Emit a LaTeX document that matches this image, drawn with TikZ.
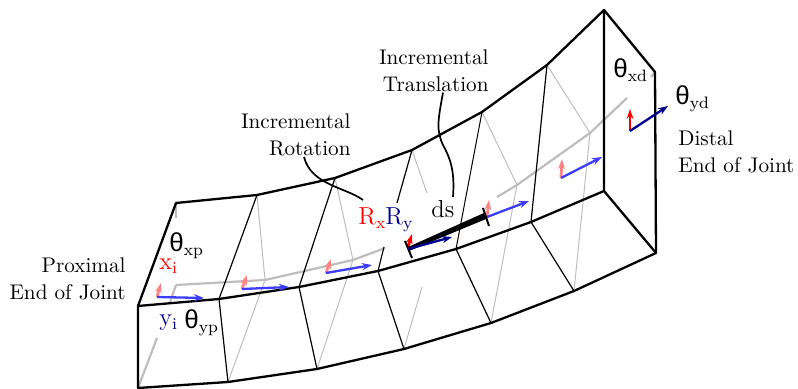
\documentclass[tikz,border=0pt]{standalone}
\usepackage{fontspec}
\usepackage{xcolor}
\usetikzlibrary{arrows.meta}
\newfontfamily\thetafont{Liberation Sans}
\definecolor{lightblue}{HTML}{3C3CFF}
\definecolor{lightred}{HTML}{FF8585}
\definecolor{darkblue}{HTML}{00008F}
\definecolor{backgray}{HTML}{BDBDBD}
\newcommand{\thetalab}[1]{{\fontsize{13}{14}\thetafont θ}\raisebox{-0.35ex}{\fontsize{8.3}{9}\selectfont #1}}
\tikzset{
  edge/.style={black,line width=1.15pt,line join=round},
  rib/.style={black,line width=0.6pt},
  backrib/.style={backgray,line width=0.5pt},
  backedge/.style={backgray,line width=1.1pt},
  leader/.style={black,line width=0.85pt},
  lab/.style={inner sep=0pt,anchor=base west},
  big/.style={font=\fontsize{12.3}{14}\selectfont},
  para/.style={inner sep=0pt,font=\fontsize{10.6}{13.5}\selectfont},
  axis/.style={-{Stealth[length=5pt,width=3.6pt]},line width=1.15pt},
  upaxis/.style={-{Stealth[length=5pt,width=3.4pt]},line width=1.4pt}
}
\begin{document}
\begin{tikzpicture}[x=0.5pt,y=-0.5pt]
  \useasboundingbox (0,0) rectangle (798,389);
  % hidden lines
  \draw[backedge] (176,203) -- (176,218);
  \draw[backedge] (176,285) -- (170,302);
  \draw[backedge] (157,338) -- (138,388);
  \draw[backedge] (176,285) -- (265,280) -- (353,260) -- (385,248);
  \draw[backedge] (497,197) -- (517,185) -- (590,133) -- (627,98);
  \draw[backedge] (655,72) -- (651,77);
  \foreach \a/\b in {257/195,335/178,412/150,482/112,547/65} {
    \coordinate (t\a) at (\a,\b);
  }
  \draw[backrib] (t257) -- (265,280) -- (228,382);
  \draw[backrib] (t335) -- (353,260) -- (317,369);
  \draw[backrib] (t412) -- (427,193);
  \draw[backrib] (422,287) -- (404,349);
  \draw[backrib] (t482) -- (517,185) -- (491,323);
  \draw[backrib] (t547) -- (590,133) -- (574,291);
  % ribs
  \draw[rib] (t257) -- (219,299) -- (228,382);
  \draw[rib] (t335) -- (299,287) -- (317,369);
  \draw[rib] (t412) -- (397,203);
  \draw[rib] (384,247) -- (378,271) -- (404,349);
  \draw[rib,line width=0.5pt] (t482) -- (456,249);
  \draw[rib] (456,249) -- (491,323);
  \draw[rib] (t547) -- (531,222) -- (574,291);
  % outline
  \draw[edge] (138,306) -- (176,203) -- (t257) -- (t335) -- (t412) -- (t482) -- (t547) -- (604,10) -- (655,72) -- (656,253) -- (574,291) -- (491,323) -- (404,349) -- (317,369) -- (228,382) -- (138,388) -- cycle;
  \draw[edge] (138,306) -- (219,299) -- (299,287) -- (378,271) -- (456,249) -- (531,222) -- (604,191) -- (604,10);
  \draw[edge] (604,191) -- (656,253);
  % frames along the joint
  \foreach \x/\y/\rx/\ry/\bx/\by in {157/297/161/283/204/298, 242/289/247/275/289/287, 326/273/331/259/372/265, 487/217/489/200/529/201, 561/178/562/159/602/157} {
    \draw[upaxis,lightred] (\x,\y) -- (\rx,\ry);
    \draw[axis,lightblue] (\x,\y) -- (\bx,\by);
  }
  \draw[upaxis,red] (630,131) -- (630,109);
  \draw[axis,darkblue] (630,131) -- (668,106);
  % increment
  \draw[upaxis,red] (408,247) -- (412,234);
  \fill[black] (408,247) -- (484,213) -- (486,219) -- (409,251) -- cycle;
  \draw[line width=1pt] (405,241) -- (412,258);
  \draw[line width=1pt] (483,208) -- (489,226);
  \draw[axis,darkblue] (408,249) -- (452,237);
  % labels
  \node[para,align=right,anchor=base east] (proximal) at (126,300) {Proximal\\End of Joint};
  \node[para,align=left,anchor=base west] (distal) at (678,173) {Distal\\End of Joint};
  \node[para,align=right,anchor=base east] (rotation) at (351,156) {Incremental\\Rotation};
  \node[para,align=right,anchor=base east] (translation) at (489,92) {Incremental\\Translation};
  \node[lab,big] (ds) at (431,218) {ds};
  \node[lab,big] (rxry) at (358,225) {\textcolor{red}{R\raisebox{-0.3ex}{\fontsize{8.3}{9}\selectfont x}}\textcolor{darkblue}{R\raisebox{-0.3ex}{\fontsize{8.3}{9}\selectfont y}}};
  \node[lab,big,red] (xi) at (159,270) {x\raisebox{-0.3ex}{\fontsize{8.3}{9}\selectfont i}};
  \node[lab,big,darkblue] (yi) at (159,326) {y\raisebox{-0.3ex}{\fontsize{8.3}{9}\selectfont i}};
  \node[lab] (txp) at (169,252) {\thetalab{xp}};
  \node[lab] (typ) at (184,329) {\thetalab{yp}};
  \node[lab] (txd) at (613,78) {\thetalab{xd}};
  \node[lab] (tyd) at (675,105) {\thetalab{yd}};
  % leaders
  \coordinate (rotend) at (363,200);
  \coordinate (transbend) at (443,145);
  \coordinate (transend) at (453,197);
  \draw[leader] (rotation.south -| 304,0) .. controls (311,185) and (345,187) .. (rotend);
  \draw[leader] (translation.south -| 443,0) .. controls (438,120) and (436,130) .. (transbend) .. controls (450,158) and (455,170) .. (transend);
\end{tikzpicture}
\end{document}
